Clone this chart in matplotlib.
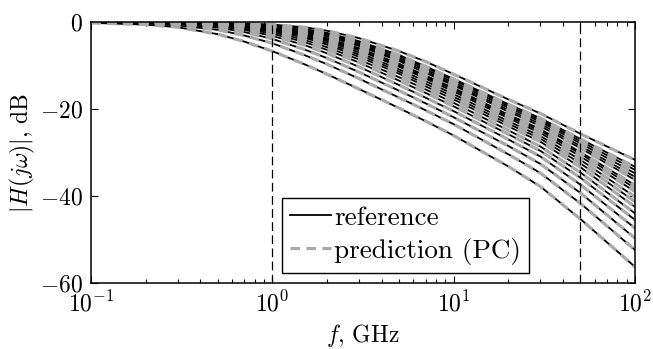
import matplotlib
matplotlib.use("Agg")
import matplotlib.pyplot as plt

plt.rcParams['font.family'] = 'cmr10'
plt.rcParams['mathtext.fontset'] = 'cm'
plt.rcParams['axes.formatter.use_mathtext'] = True
plt.rcParams['font.size'] = 17

# frequency grid (GHz)
freq_ghz = [0.1, 0.2, 0.3, 0.5, 0.7, 1, 1.5, 2, 3, 5, 7, 10, 20, 30, 50, 100]

# |H(jw)| in dB, one row per curve
h_ref = [
    [-0.0, -0.0, -0.1, -0.2, -0.3, -0.6, -1.2, -2.0, -3.7, -6.7, -9.1, -12.0, -17.8, -21.0, -25.7, -31.7],
    [-0.0, -0.0, -0.1, -0.2, -0.4, -0.8, -1.6, -2.5, -4.4, -7.6, -10.2, -13.1, -18.9, -22.1, -26.9, -33.3],
    [-0.0, -0.0, -0.1, -0.2, -0.5, -0.9, -1.7, -2.7, -4.7, -7.9, -10.5, -13.4, -19.3, -22.5, -27.4, -34.0],
    [-0.0, -0.0, -0.1, -0.3, -0.5, -1.0, -1.9, -2.9, -5.0, -8.3, -10.9, -13.9, -19.7, -22.9, -27.9, -34.8],
    [-0.0, -0.0, -0.1, -0.3, -0.6, -1.0, -2.0, -3.1, -5.2, -8.7, -11.3, -14.3, -20.2, -23.4, -28.5, -35.6],
    [-0.0, -0.1, -0.1, -0.3, -0.6, -1.1, -2.2, -3.3, -5.5, -9.0, -11.7, -14.6, -20.6, -23.9, -29.0, -36.3],
    [-0.0, -0.1, -0.1, -0.4, -0.7, -1.2, -2.4, -3.7, -6.0, -9.6, -12.3, -15.2, -21.3, -24.6, -29.9, -37.5],
    [-0.0, -0.1, -0.1, -0.4, -0.7, -1.3, -2.5, -3.9, -6.2, -10.0, -12.6, -15.6, -21.7, -25.0, -30.3, -38.2],
    [-0.0, -0.1, -0.1, -0.4, -0.8, -1.4, -2.7, -4.1, -6.5, -10.3, -13.0, -16.0, -22.1, -25.5, -30.9, -39.0],
    [-0.0, -0.1, -0.2, -0.5, -0.9, -1.6, -3.0, -4.4, -7.0, -10.9, -13.6, -16.6, -22.8, -26.2, -31.7, -40.2],
    [-0.0, -0.1, -0.2, -0.5, -1.0, -1.8, -3.3, -4.8, -7.5, -11.4, -14.2, -17.2, -23.4, -26.8, -32.5, -41.3],
    [-0.0, -0.1, -0.2, -0.6, -1.1, -2.0, -3.6, -5.2, -8.0, -11.9, -14.8, -17.8, -24.0, -27.5, -33.4, -42.5],
    [-0.0, -0.1, -0.3, -0.7, -1.3, -2.3, -4.1, -5.8, -8.6, -12.7, -15.5, -18.6, -24.9, -28.6, -34.6, -44.0],
    [-0.0, -0.1, -0.3, -0.8, -1.5, -2.7, -4.6, -6.4, -9.3, -13.5, -16.3, -19.4, -25.8, -29.6, -35.8, -45.5],
    [-0.0, -0.2, -0.4, -1.0, -1.8, -3.2, -5.3, -7.2, -10.3, -14.5, -17.4, -20.5, -27.0, -30.9, -37.4, -47.4],
    [-0.1, -0.2, -0.5, -1.3, -2.3, -3.9, -6.3, -8.3, -11.5, -15.8, -18.7, -21.9, -28.5, -32.6, -39.3, -49.7],
    [-0.1, -0.4, -0.8, -1.8, -3.1, -4.9, -7.6, -9.7, -13.0, -17.4, -20.3, -23.5, -30.4, -34.7, -41.7, -52.4],
    [-0.2, -0.6, -1.2, -2.8, -4.5, -6.7, -9.7, -12.0, -15.4, -19.8, -22.8, -26.1, -33.2, -37.8, -45.3, -56.3],
]
# PC prediction lies on top of the reference
h_pred = h_ref

# band edges marked in the plot (GHz)
band_marks = [1, 50]

fig = plt.figure(figsize=(6.53, 3.49), dpi=100)
ax = fig.add_axes([0.1394, 0.1891, 0.8331, 0.7479])

for row in h_ref:
    l_ref, = ax.semilogx(freq_ghz, row, color='k', lw=1.3)
for row in h_pred:
    l_pred, = ax.semilogx(freq_ghz, row, color='#aaaaaa', lw=2.3, dashes=(3.0, 2.0))

for f in band_marks:
    ax.axvline(f, color='k', lw=0.9, dashes=(7, 3.5))

ax.set_xlim(0.1, 100)
ax.set_ylim(-60, 0)
ax.set_yticks([-60, -40, -20, 0])
ax.tick_params(which='both', direction='in', top=True, right=True, width=0.8)
ax.tick_params(which='major', length=5, pad=6)
ax.tick_params(which='minor', length=3)
for s in ax.spines.values():
    s.set_linewidth(1.1)

ax.set_xlabel(r'$f$, GHz', labelpad=4)
ax.set_ylabel(r'$|H(j\omega)|$, dB', labelpad=2)

leg = ax.legend([l_ref, l_pred], ['reference', 'prediction (PC)'],
                loc='lower center', bbox_to_anchor=(0.578, 0.038),
                fontsize=19.5, fancybox=False, edgecolor='k', framealpha=1,
                handlelength=1.5, handletextpad=0.12, borderpad=0.3,
                labelspacing=0.3, borderaxespad=0)
leg.get_frame().set_linewidth(1.0)

fig.savefig("out.png")
